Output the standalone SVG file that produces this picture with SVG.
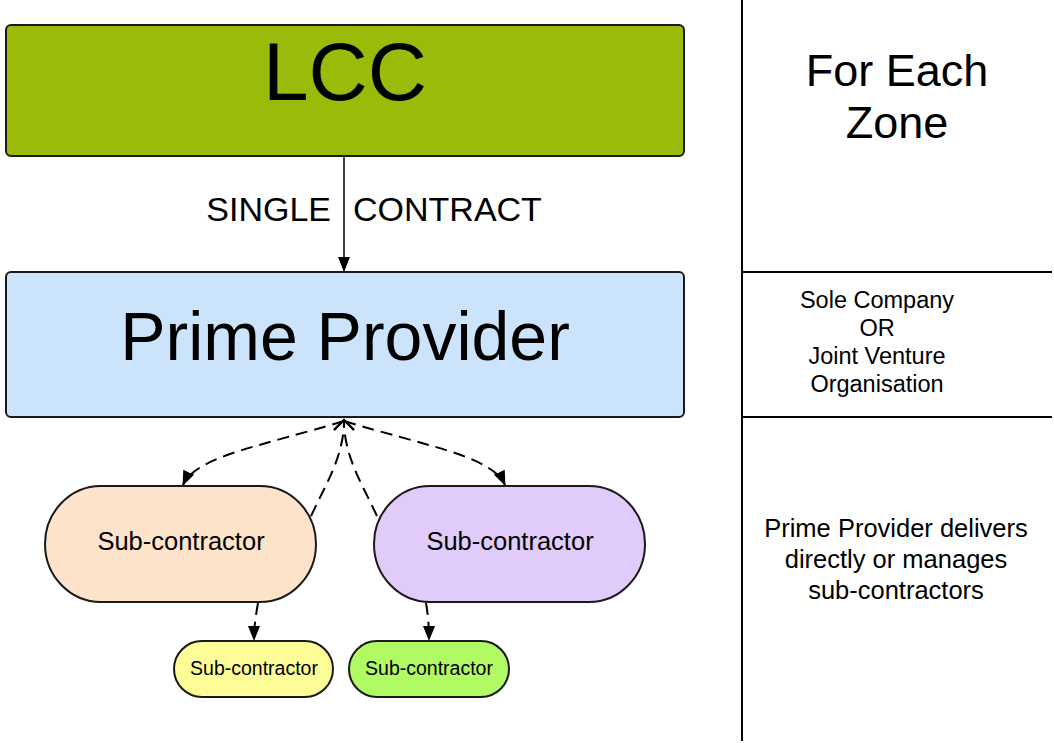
<svg xmlns="http://www.w3.org/2000/svg" width="1054" height="743" viewBox="0 0 1054 743">
  <style>
    text { font-family: "Liberation Sans", Arial, sans-serif; fill: #000; text-anchor: middle; }
    .box { stroke: #1a1a1a; stroke-width: 2; }
    .grid { stroke: #000; stroke-width: 2; fill: none; }
    .solid { stroke: #000; stroke-width: 1.5; fill: none; }
    .dash { stroke: #000; stroke-width: 2; fill: none; stroke-dasharray: 12 7; }
    .sub { font-size: 25.5px; }
    .small { font-size: 19.5px; }
    .note { font-size: 23.5px; }
    .desc { font-size: 25.5px; }
  </style>
  <defs>
    <marker id="filled" viewBox="0 0 15 12" refX="14" refY="6" markerWidth="15" markerHeight="12" markerUnits="userSpaceOnUse" orient="auto">
      <path d="M0,0 L15,6 L0,12 Z" fill="#000"/>
    </marker>
    <marker id="open" viewBox="0 0 14 24" refX="12" refY="12" markerWidth="14" markerHeight="24" markerUnits="userSpaceOnUse" orient="auto">
      <path d="M2,2 L12,12 L2,22" fill="none" stroke="#000" stroke-width="2"/>
    </marker>
  </defs>

  <rect x="0" y="0" width="1054" height="743" fill="#fff"/>

  <!-- right-hand description column -->
  <g id="column">
    <line class="grid" x1="742" y1="0" x2="742" y2="741"/>
    <line class="grid" x1="742" y1="272" x2="1052" y2="272"/>
    <line class="grid" x1="742" y1="417" x2="1052" y2="417"/>
    <text x="897" y="86" font-size="45">For Each</text>
    <text x="897" y="138" font-size="45">Zone</text>
    <text class="note" x="877" y="308">Sole Company</text>
    <text class="note" x="877" y="336">OR</text>
    <text class="note" x="877" y="364">Joint Venture</text>
    <text class="note" x="877" y="392">Organisation</text>
    <text class="desc" x="896" y="537">Prime Provider delivers</text>
    <text class="desc" x="896" y="568">directly or manages</text>
    <text class="desc" x="896" y="599">sub-contractors</text>
  </g>

  <!-- connectors -->
  <g id="connectors">
    <line class="solid" x1="344" y1="157" x2="344" y2="271" marker-end="url(#filled)"/>
    <text font-size="34"><tspan x="331" y="221" text-anchor="end">SINGLE</tspan><tspan x="353" y="221" text-anchor="start">CONTRACT</tspan></text>
    <path class="dash" d="M344,421 C262,446 196,456 183,485" marker-end="url(#filled)"/>
    <path class="dash" d="M344,421 C426,446 492,456 505,485" marker-end="url(#filled)"/>
    <path class="dash" d="M311,516 C328,480 344,455 344,420" marker-end="url(#open)"/>
    <path class="dash" d="M377,516 C360,480 344,455 344,420" marker-end="url(#open)"/>
    <path class="dash" d="M258,603 C256,615 254,625 254,640" marker-end="url(#filled)"/>
    <path class="dash" d="M426,603 C428,615 429,625 429,640" marker-end="url(#filled)"/>
  </g>

  <g id="lcc">
    <rect class="box" x="6" y="25" width="678" height="131" rx="5" fill="#9bbb0a"/>
    <text x="345" y="100" font-size="82">LCC</text>
  </g>

  <g id="prime-provider">
    <rect class="box" x="6" y="272" width="678" height="145" rx="5" fill="#cce4fb"/>
    <text x="345" y="360" font-size="68">Prime Provider</text>
  </g>

  <g id="sub-left">
    <rect class="box" x="45" y="486" width="271" height="116" rx="56" ry="58" fill="#fde3c9"/>
    <text class="sub" x="181" y="550">Sub-contractor</text>
  </g>

  <g id="sub-right">
    <rect class="box" x="374" y="486" width="271" height="116" rx="56" ry="58" fill="#e1cbfb"/>
    <text class="sub" x="510" y="550">Sub-contractor</text>
  </g>

  <g id="sub-yellow">
    <rect class="box" x="174" y="641" width="159" height="56" rx="28" fill="#fdfd97"/>
    <text class="small" x="254" y="675">Sub-contractor</text>
  </g>

  <g id="sub-green">
    <rect class="box" x="349" y="641" width="160" height="56" rx="28" fill="#b2fa64"/>
    <text class="small" x="429" y="675">Sub-contractor</text>
  </g>
</svg>
